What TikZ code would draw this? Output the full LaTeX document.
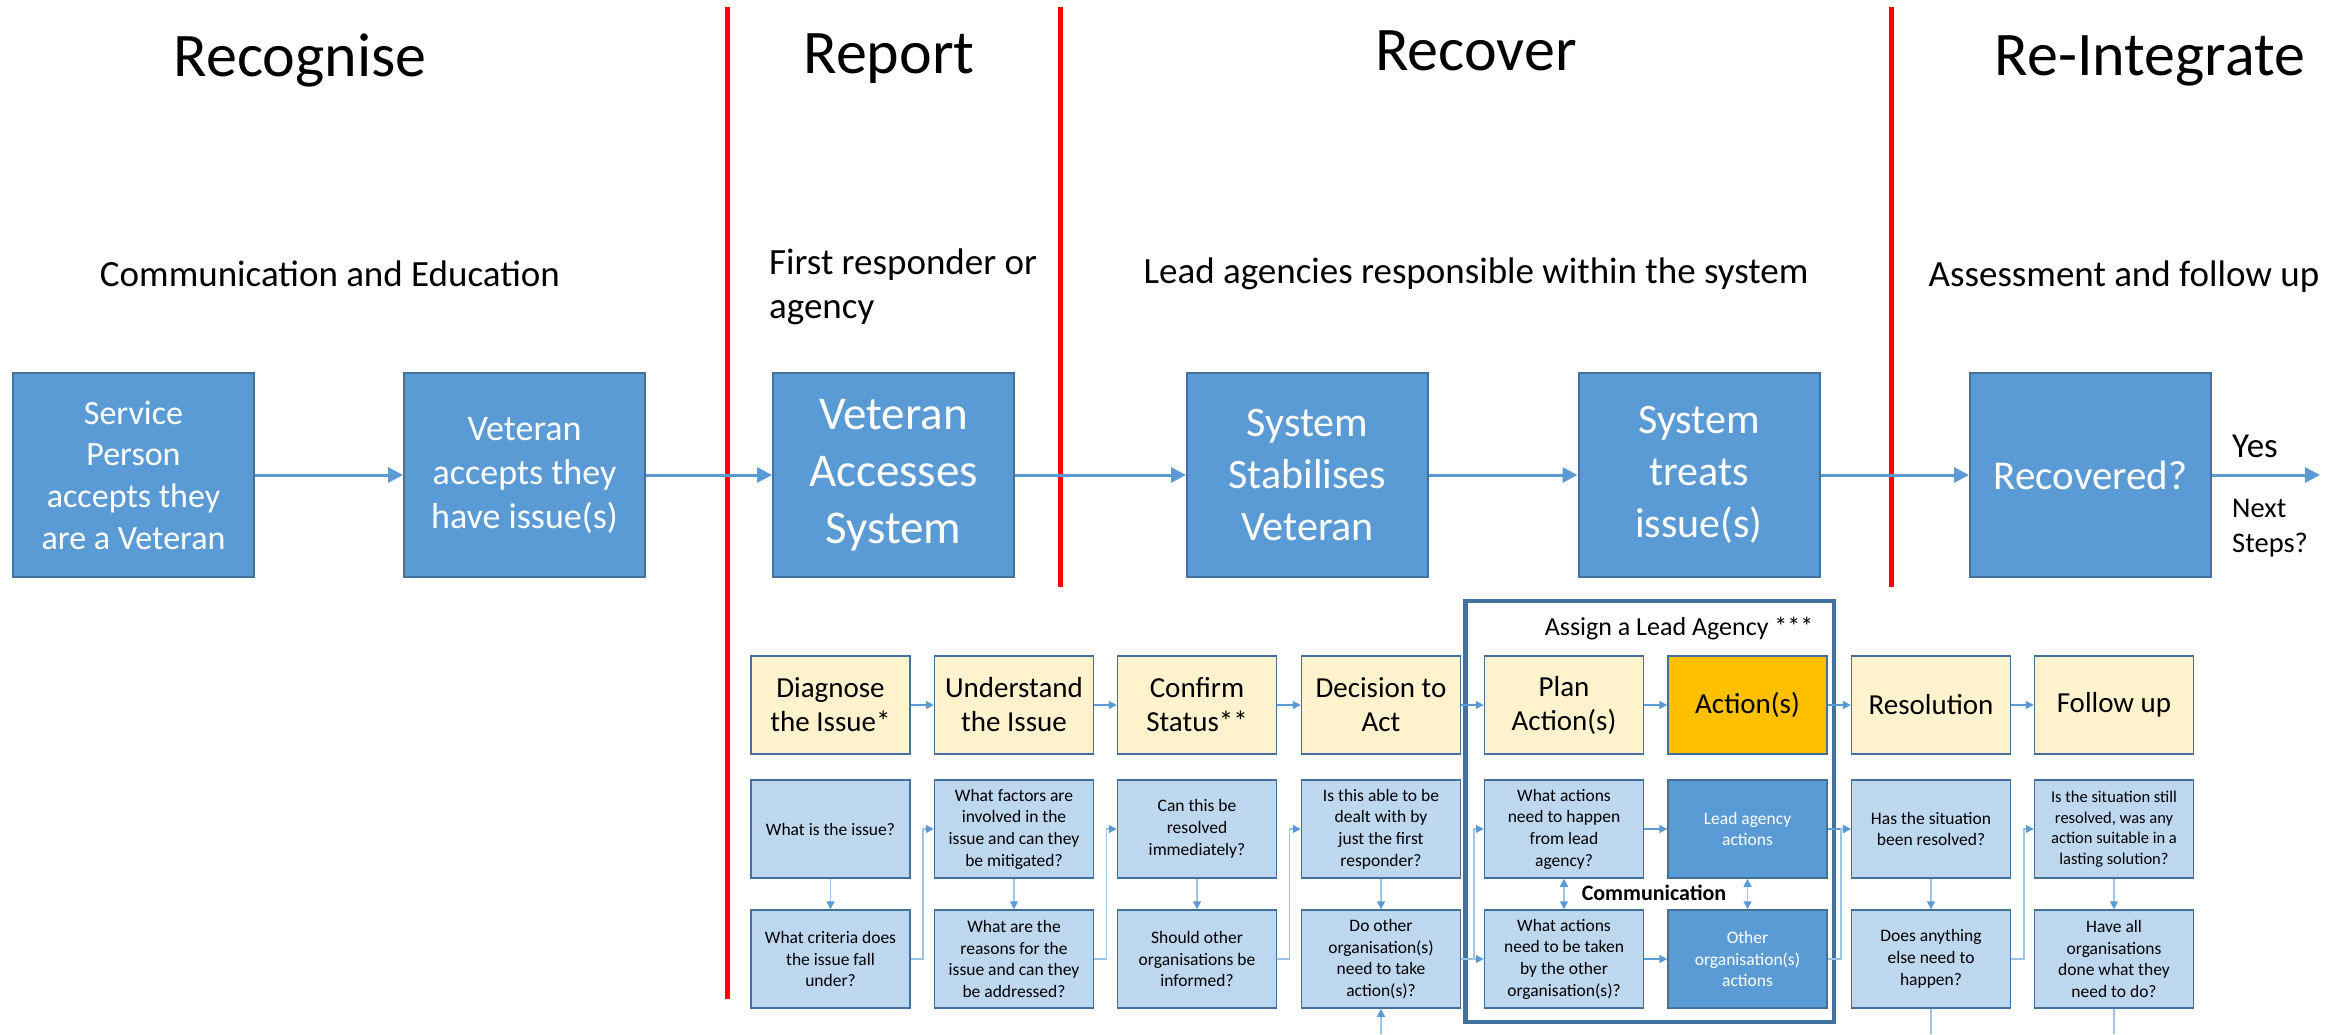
\documentclass[tikz,border=0pt]{standalone}
\usepackage{fontspec}
\setmainfont{Carlito}
\usetikzlibrary{arrows.meta}
\definecolor{boxblue}{HTML}{5B9BD5}
\definecolor{edgeblue}{HTML}{41719C}
\definecolor{paleyellow}{HTML}{FFF2CC}
\definecolor{goldfill}{HTML}{FFC000}
\definecolor{paleblue}{HTML}{BDD7EE}
\definecolor{lineblue}{HTML}{9DC3E6}
\definecolor{redline}{HTML}{FF0000}
\newcommand\fsz[2]{\fontsize{#1}{#2}\selectfont}
\begin{document}
\begin{tikzpicture}[x=1pt,y=-1pt,
  bigbox/.style={draw=edgeblue, line width=2pt, fill=boxblue, text=white,
    minimum width=241pt, minimum height=204pt, inner sep=0pt, align=center},
  stagebox/.style={draw=edgeblue, line width=1.5pt, fill=paleyellow, text=black,
    minimum width=159pt, minimum height=98pt, inner sep=0pt, align=center,
    font=\fsz{29}{34}},
  qbox/.style={draw=edgeblue, line width=1.5pt, fill=paleblue, text=black,
    minimum width=159pt, minimum height=98pt, inner sep=0pt, align=center,
    font=\fsz{17.5}{21.7}},
  actbox/.style={qbox, fill=boxblue, text=white},
  divider/.style={draw=redline, line width=5pt},
  title/.style={anchor=base, font=\fsz{62}{74}},
  subtitle/.style={anchor=base, font=\fsz{37}{45}},
  toparrow/.style={draw=boxblue, line width=3pt, -{Triangle[length=15pt,width=15pt]}},
  smallarrow/.style={draw=boxblue, line width=1.5pt, -{Triangle[length=8pt,width=8pt]}},
  backarrow/.style={draw=lineblue, line width=1.5pt, -{Triangle[length=8pt,width=8pt,color=boxblue]}},
  twoarrow/.style={draw=lineblue, line width=1.5pt, {Triangle[length=8pt,width=8pt,color=boxblue]}-{Triangle[length=8pt,width=8pt,color=boxblue]}},
  plainline/.style={draw=lineblue, line width=1.5pt},
  agencyframe/.style={draw=edgeblue, line width=4.5pt, minimum width=368.5pt, minimum height=421pt, inner sep=0pt}
]
\useasboundingbox[fill=white] (0,0) rectangle (2349,1034);

% dividers
\draw[divider] (727,7) -- (727,999);
\draw[divider] (1060,7) -- (1060,587);
\draw[divider] (1891,7) -- (1891,587);

% titles
\node[title] (tRecognise) at (300,76) {Recognise};
\node[title] (tReport) at (889,73) {Report};
\node[title] (tRecover) at (1476,70) {Recover};
\node[title] (tReint) at (2150,75) {Re-Integrate};

% subtitles
\node[subtitle] (sComm) at (330,286) {Communication and Education};
\node[subtitle, anchor=base west, align=left, inner sep=0pt] (sFirst) at (769,274) {First responder or};
\node[subtitle, anchor=base west, align=left, inner sep=0pt] (sAgency) at (769,318) {agency};
\node[subtitle] (sLead) at (1476,283) {Lead agencies responsible within the system};
\node[subtitle] (sAssess) at (2124,286) {Assessment and follow up};

% top boxes
\node[bigbox, font=\fsz{34}{41.7}] (A) at (133.5,475) {Service\\Person\\accepts they\\are a Veteran};
\node[bigbox, font=\fsz{36}{44}] (B) at (524.5,475) {Veteran\\accepts they\\have issue(s)};
\node[bigbox, font=\fsz{47}{57}] (C) at (893.5,475) {Veteran\\Accesses\\System};
\node[bigbox, font=\fsz{42}{52}] (D) at (1307.5,475) {System\\Stabilises\\Veteran};
\node[bigbox, font=\fsz{42}{52}] (E) at (1699,475) {System\\treats\\issue(s)};
\node[bigbox, font=\fsz{41}{50}] (F) at (2090.5,475) {Recovered?};
\coordinate (Fend) at (2320,475);

\draw[toparrow] (A) -- (B);
\draw[toparrow] (B) -- (C);
\draw[toparrow] (C) -- (D);
\draw[toparrow] (D) -- (E);
\draw[toparrow] (E) -- (F);
\draw[toparrow] (F) -- (Fend);

\node[anchor=base west, inner sep=0pt, font=\fsz{35}{42}] (yes) at (2232,457) {Yes};
\node[anchor=base west, inner sep=0pt, font=\fsz{28.5}{35}] (next) at (2232,517) {Next};
\node[anchor=base west, inner sep=0pt, font=\fsz{28.5}{35}] (steps) at (2232,552) {Steps?};

% agency frame
\node[agencyframe] (frame) at (1649.75,811.5) {};
\node[anchor=base, font=\fsz{26}{30}] (assign) at (1679,635) {Assign a Lead Agency ***};

% stage row
\node[stagebox] (s1) at (830.5,705) {Diagnose\\the Issue*};
\node[stagebox] (s2) at (1014,705) {Understand\\the Issue};
\node[stagebox] (s3) at (1197,705) {Confirm\\Status**};
\node[stagebox] (s4) at (1381,705) {Decision to\\Act};
\node[stagebox] (s5) at (1564,705) {Plan\\Action(s)};
\node[stagebox, fill=goldfill] (s6) at (1747.5,705) {Action(s)};
\node[stagebox] (s7) at (1931,705) {Resolution};
\node[stagebox] (s8) at (2114,705) {Follow up};

% question rows
\node[qbox] (a1) at (830.5,829) {What is the issue?};
\node[qbox] (b1) at (830.5,959) {What criteria does\\the issue fall\\under?};
\node[qbox] (a2) at (1014,829) {What factors are\\involved in the\\issue and can they\\be mitigated?};
\node[qbox] (b2) at (1014,959) {What are the\\reasons for the\\issue and can they\\be addressed?};
\node[qbox] (a3) at (1197,829) {Can this be\\resolved\\immediately?};
\node[qbox] (b3) at (1197,959) {Should other\\organisations be\\informed?};
\node[qbox] (a4) at (1381,829) {Is this able to be\\dealt with by\\just the first\\responder?};
\node[qbox] (b4) at (1381,959) {Do other\\organisation(s)\\need to take\\action(s)?};
\node[qbox] (a5) at (1564,829) {What actions\\need to happen\\from lead\\agency?};
\node[qbox] (b5) at (1564,959) {What actions\\need to be taken\\by the other\\organisation(s)?};
\node[actbox] (a6) at (1747.5,829) {Lead agency\\actions};
\node[actbox] (b6) at (1747.5,959) {Other\\organisation(s)\\actions};
\node[qbox] (a7) at (1931,829) {Has the situation\\been resolved?};
\node[qbox] (b7) at (1931,959) {Does anything\\else need to\\happen?};
\node[qbox, font=\fsz{16.5}{20.5}] (a8) at (2114,829) {Is the situation still\\resolved, was any\\action suitable in a\\lasting solution?};
\node[qbox] (b8) at (2114,959) {Have all\\organisations\\done what they\\need to do?};

\node[anchor=base, font=\bfseries\fsz{22}{26}] (comm) at (1654,900) {Communication};

% stage arrows
\draw[smallarrow] (s1) -- (s2);
\draw[smallarrow] (s2) -- (s3);
\draw[smallarrow] (s3) -- (s4);
\draw[smallarrow] (s4) -- (s5);
\draw[smallarrow] (s5) -- (s6);
\draw[smallarrow] (s6) -- (s7);
\draw[smallarrow] (s7) -- (s8);

% vertical arrows
\draw[backarrow] (a1) -- (b1);
\draw[backarrow] (a2) -- (b2);
\draw[backarrow] (a3) -- (b3);
\draw[backarrow] (a4) -- (b4);
\draw[backarrow] (a7) -- (b7);
\draw[backarrow] (a8) -- (b8);
\draw[twoarrow] (a5) -- (b5);
\draw[twoarrow] (a6) -- (b6);

% back connectors
\draw[backarrow] (b1.east) -- ++(12,0) |- (a2.west);
\draw[backarrow] (b2.east) -- ++(12,0) |- (a3.west);
\draw[backarrow] (b3.east) -- ++(12,0) |- (a4.west);
\draw[backarrow] (b4.east) -- ++(12.5,0) |- (a5.west);
\draw[backarrow] (b4) -- (b5);
\draw[smallarrow] (a5) -- (a6);
\draw[smallarrow] (b5) -- (b6);
\draw[smallarrow] (a6) -- (a7);
\draw[backarrow] (b6.east) -- ++(13,0) |- (a7.west);
\draw[backarrow] (b7.east) -- ++(12.5,0) |- (a8.west);

% connectors leaving the picture
\coordinate (bot4) at (1381,1034);
\coordinate (bot7) at (1931,1034);
\coordinate (bot8) at (2114,1034);
\draw[backarrow] (bot4) -- (b4);
\draw[plainline] (b7) -- (bot7);
\draw[plainline] (b8) -- (bot8);
\end{tikzpicture}
\end{document}
